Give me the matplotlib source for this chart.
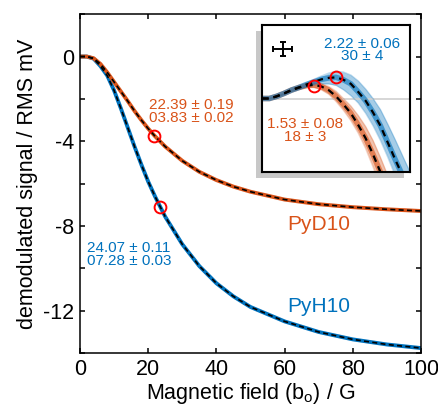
import matplotlib
matplotlib.use("Agg")
import matplotlib.pyplot as plt
from matplotlib.patches import Rectangle
from matplotlib.ticker import MultipleLocator

plt.rcParams['font.family'] = ['Liberation Sans', 'DejaVu Sans']
plt.rcParams['mathtext.fontset'] = 'custom'
plt.rcParams['mathtext.rm'] = 'Liberation Sans'
plt.rcParams['axes.unicode_minus'] = False

# main panel
field = [0, 2, 4, 6, 8, 10, 12, 14, 16, 18, 20, 22, 25, 30, 35, 40, 45, 50, 60, 70, 80, 90, 100]
pyd10 = [0, 0.0, -0.08, -0.35, -0.75, -1.2, -1.65, -2.1, -2.57, -3.0, -3.4, -3.76, -4.25,
         -4.92, -5.44, -5.83, -6.14, -6.38, -6.75, -6.97, -7.11, -7.21, -7.29]
pyh10 = [0, 0.0, -0.1, -0.45, -0.9, -1.6, -2.45, -3.35, -4.25, -5.1, -5.9, -6.6, -7.56,
         -8.86, -9.89, -10.7, -11.32, -11.82, -12.5, -13.0, -13.35, -13.59, -13.76]
half_x = [21.6, 23.6]
half_y = [-3.77, -7.1]

# inset (arbitrary units, low field region)
inset_x = [0, 0.05, 0.1, 0.15, 0.2, 0.25, 0.3, 0.35, 0.4, 0.45, 0.5, 0.55, 0.6, 0.65,
           0.7, 0.75, 0.8, 0.85, 0.9, 0.95, 1.0]
d_mean = [0, 0.0, 0.03, 0.07, 0.115, 0.15, 0.175, 0.185, 0.165, 0.115, 0.03, -0.08, -0.2,
          -0.36, -0.54, -0.76, -1.0, -1.3, -1.6, -1.9, -2.2]
d_hi = [0, 0.0, 0.03, 0.07, 0.12, 0.16, 0.19, 0.21, 0.2, 0.165, 0.1, 0.0, -0.1,
        -0.23, -0.38, -0.57, -0.8, -1.05, -1.3, -1.6, -1.9]
d_lo = [0, 0.0, 0.025, 0.06, 0.1, 0.13, 0.15, 0.15, 0.12, 0.06, -0.04, -0.16, -0.3,
        -0.47, -0.68, -0.93, -1.2, -1.5, -1.8, -2.1, -2.4]
h_mean = [0, 0.0, 0.03, 0.07, 0.115, 0.15, 0.19, 0.225, 0.26, 0.28, 0.288, 0.255, 0.2,
          0.09, -0.03, -0.19, -0.37, -0.6, -0.83, -1.05, -1.4]
h_hi = [0, 0.0, 0.03, 0.07, 0.12, 0.165, 0.215, 0.26, 0.305, 0.345, 0.37, 0.36, 0.32,
        0.24, 0.13, 0.0, -0.15, -0.35, -0.56, -0.78, -1.0]
h_lo = [0, 0.0, 0.025, 0.06, 0.1, 0.13, 0.16, 0.18, 0.2, 0.2, 0.18, 0.12, 0.04,
        -0.06, -0.2, -0.37, -0.57, -0.8, -1.05, -1.3, -1.6]
peak_x = [0.351, 0.5]
peak_y = [0.174, 0.288]

orange = '#D95319'
blue = '#0072BD'

fig = plt.figure(figsize=(4.38, 4.05), dpi=100)
ax = fig.add_axes([0.1826, 0.128, 0.7785, 0.837])

ax.plot(field, pyh10, color=blue, lw=2.8, solid_capstyle='butt')
ax.plot(field, pyd10, color=orange, lw=2.8, solid_capstyle='butt')
ax.plot(field, pyh10, color='k', lw=1.2, dashes=(3, 2))
ax.plot(field, pyd10, color='k', lw=1.2, dashes=(3, 2))
ax.plot(half_x, half_y, 'o', ms=8.5, mfc='none', mec='#FF0000', mew=1.4)

ax.text(32.6, -2.6, "22.39 ± 0.19\n03.83 ± 0.02", color=orange, fontsize=11,
        ha='center', va='center', linespacing=0.9)
ax.text(14.4, -9.35, "24.07 ± 0.11\n07.28 ± 0.03", color=blue, fontsize=11,
        ha='center', va='center', linespacing=0.9)
ax.text(70, -7.94, "PyD10", color=orange, fontsize=15, ha='center', va='center')
ax.text(70, -11.82, "PyH10", color=blue, fontsize=15, ha='center', va='center')

ax.set_xlim(0, 100)
ax.set_ylim(-14, 2)
ax.xaxis.set_major_locator(MultipleLocator(20))
ax.yaxis.set_major_locator(MultipleLocator(4))
ax.yaxis.set_minor_locator(MultipleLocator(2))
ax.tick_params(which='both', direction='in', top=True, right=True, length=3.5,
               width=1.1, labelsize=15.5, pad=4)
for s in ax.spines.values():
    s.set_linewidth(1.1)
ax.set_xlabel(r"Magnetic field (b$_\mathrm{o}$) / G", fontsize=15.5, labelpad=1)
ax.set_ylabel("demodulated signal / RMS mV", fontsize=15.5, labelpad=4)

# shadow behind the inset
shadow = Rectangle((256 / 438, (405 - 178) / 405), 148 / 438, 147 / 405,
                   transform=fig.transFigure, facecolor='#c8c8c8', edgecolor='none', zorder=1)
fig.add_artist(shadow)

ax_in = fig.add_axes([262 / 438, (405 - 172) / 405, 148 / 438, 147 / 405])
ax_in.set_zorder(2)
ax_in.axhline(0, color='#d0d0d0', lw=1.2)
ax_in.fill_between(inset_x, d_lo, d_hi, color=orange, alpha=0.35, lw=0)
ax_in.fill_between(inset_x, h_lo, h_hi, color=blue, alpha=0.35, lw=0)
ax_in.plot(inset_x, d_hi, color=orange, alpha=0.25, lw=1)
ax_in.plot(inset_x, d_lo, color=orange, alpha=0.25, lw=1)
ax_in.plot(inset_x, h_hi, color=blue, alpha=0.25, lw=1)
ax_in.plot(inset_x, h_lo, color=blue, alpha=0.25, lw=1)
ax_in.plot(inset_x, d_mean, color=orange, lw=4, alpha=0.6)
ax_in.plot(inset_x, h_mean, color=blue, lw=4, alpha=0.6)
ax_in.plot(inset_x, d_mean, color='k', lw=1.6, dashes=(3, 2.2))
ax_in.plot(inset_x, h_mean, color='k', lw=1.6, dashes=(3, 2.2))
ax_in.plot(peak_x, peak_y, 'o', ms=8.5, mfc='none', mec='#FF0000', mew=1.4)
ax_in.errorbar([0.14], [0.68], xerr=[0.065], yerr=[0.095], color='k', lw=1.4,
               capsize=2.5, capthick=1.4)
ax_in.text(0.678, 0.66, "2.22 ± 0.06\n30 ± 4", color=blue, fontsize=11,
           ha='center', va='center', linespacing=0.9)
ax_in.text(0.29, -0.44, "1.53 ± 0.08\n18 ± 3", color=orange, fontsize=11,
           ha='center', va='center', linespacing=0.9)
ax_in.set_xlim(0, 1)
ax_in.set_ylim(-1, 1)
ax_in.set_xticks([])
ax_in.set_yticks([])
for s in ax_in.spines.values():
    s.set_linewidth(1.5)

fig.savefig("out.png", dpi=100)
